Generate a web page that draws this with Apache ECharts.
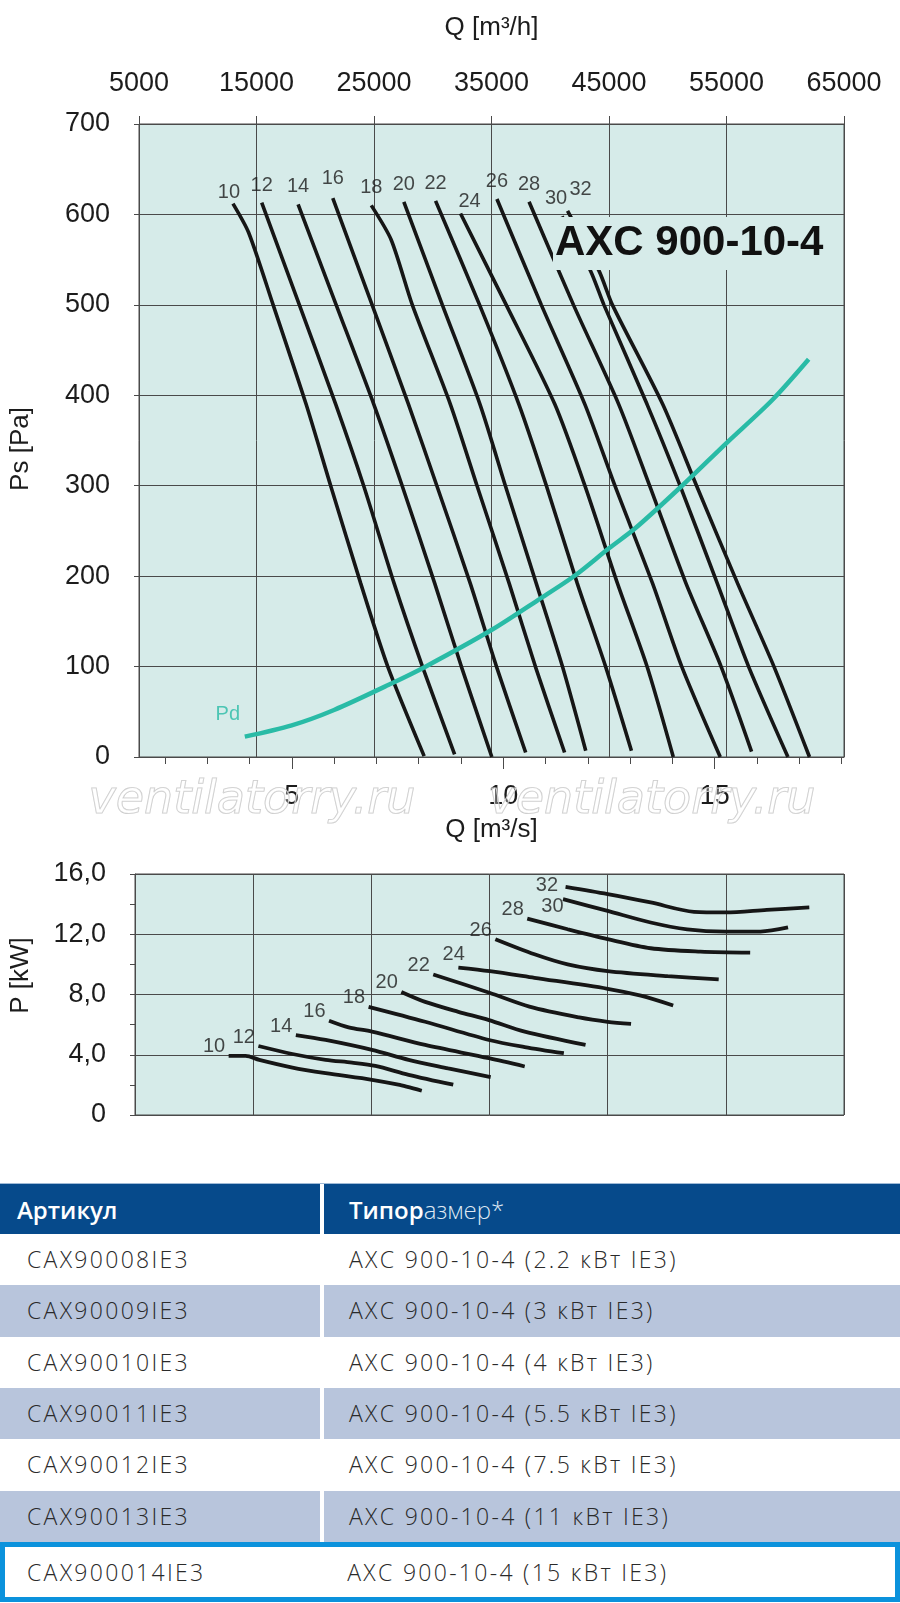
<!DOCTYPE html>
<html>
<head>
<meta charset="utf-8">
<title>AXC 900-10-4</title>
<script src="https://cdn.jsdelivr.net/npm/echarts@6.0.0/dist/echarts.min.js"></script>
<style>
  html, body { margin: 0; padding: 0; background: #fff; }
  #wrap { position: relative; width: 900px; height: 1603px; overflow: hidden; }
  #chart { position: absolute; left: 0; top: 0; width: 900px; height: 1170px; }
  #tbl { position: absolute; left: 0; top: 0; width: 900px; font-family: 'Open Sans', sans-serif; }
  .row { position: absolute; left: 0; width: 900px; display: flex; box-sizing: border-box; }
  .cell { box-sizing: border-box; white-space: nowrap; }
  .c1 { width: 320px; padding-left: 27px; }
  .c2 { width: 576px; margin-left: 4px; padding-left: 25px; }
  .head { top: 1183px; height: 51px; line-height: 51px; border-top: 1px solid #9fbad6; }
  .head .cell { background: #064a8b; color: #fff; font-size: 24px; font-weight: 600; }
  .head .c1 { padding-left: 17px; }
  .head .light { font-weight: 300; color: #dfe8f3; }
  .body .cell { font-size: 23px; font-weight: 300; color: #2a2a2a; letter-spacing: 2.3px; }
  .shade .cell { background: #b8c5dc; }
  .last { border: 5px solid #0b92dc; }
</style>
</head>
<body>
<div id="wrap">
  <div id="chart"></div>
  <div id="tbl"></div>
</div>
<script>
// curve numbers (blade angle)
var bladeAngles = [10, 12, 14, 16, 18, 20, 22, 24, 26, 28, 30, 32];

// axis ticks
var qhTicks = [5000, 15000, 25000, 35000, 45000, 55000, 65000];   // m3/h, top axis
var qsLabelTicks = [5, 10, 15];                                    // m3/s, bottom axis
var qsMinorTicks = [2, 3, 4, 5, 6, 7, 8, 9, 10, 11, 12, 13, 14, 15, 16, 17, 18];

// static pressure curves, [Q m3/s, Ps Pa]
var psCurves = [
  [[3.61, 612], [3.98, 580], [4.56, 500], [5.34, 390], [5.92, 300], [6.63, 192], [7.27, 100], [8.13, 1]],
  [[4.29, 613], [5.18, 500], [6.04, 390], [6.70, 300], [7.42, 192], [8.09, 100], [8.85, 3]],
  [[5.15, 611], [6.05, 500], [6.94, 390], [7.61, 300], [8.38, 192], [9.01, 100], [9.73, 0]],
  [[5.97, 618], [6.90, 500], [7.76, 390], [8.43, 300], [9.22, 192], [9.84, 100], [10.53, 5]],
  [[6.88, 610], [7.35, 572], [7.85, 500], [8.75, 390], [9.38, 300], [10.14, 192], [10.76, 100], [11.45, 5]],
  [[7.65, 614], [8.56, 500], [9.45, 390], [10.05, 300], [10.78, 192], [11.40, 100], [11.95, 7]],
  [[8.40, 615], [9.44, 500], [10.37, 390], [11.02, 300], [11.75, 192], [12.42, 100], [13.03, 7]],
  [[8.99, 601], [10.07, 500], [11.22, 390], [11.93, 300], [12.70, 192], [13.40, 100], [14.02, 0]],
  [[9.85, 617], [10.90, 500], [11.93, 390], [12.64, 300], [13.53, 192], [14.22, 100], [15.13, 0]],
  [[10.61, 614], [11.66, 500], [12.73, 390], [13.46, 300], [14.32, 192], [15.15, 100], [15.87, 6]],
  [[11.39, 598], [12.07, 537], [12.38, 500], [13.40, 390], [14.18, 300], [15.06, 192], [15.80, 100], [16.73, 0]],
  [[11.52, 604], [12.27, 537], [12.58, 500], [13.77, 390], [14.57, 300], [15.54, 192], [16.40, 100], [17.24, 0]]
];

// dynamic pressure Pd, [Q m3/s, Pa]
var pdCurve = [[3.89, 22.5], [5.0, 35], [6.0, 52], [7.33, 80.7], [8.16, 99.9], [9.72, 140.4], [10.82, 173.6],
  [11.68, 200.2], [12.50, 230.8], [13.12, 252.9], [14.22, 299.7], [15.27, 346.9], [16.36, 394.8], [17.22, 439.8]];

// shaft power curves, [Q m3/s, P kW]
var powerCurves = [
  [[3.59, 3.93], [3.99, 3.93], [4.31, 3.66], [5.09, 3.15], [5.87, 2.78], [6.96, 2.34], [7.58, 2.01], [8.13, 1.61]],
  [[4.29, 4.58], [5.09, 4.05], [5.87, 3.66], [6.49, 3.48], [7.04, 3.26], [7.82, 2.67], [8.87, 2.01]],
  [[5.17, 5.31], [5.87, 4.98], [6.96, 4.32], [7.82, 3.66], [8.75, 3.10], [9.75, 2.52]],
  [[5.95, 6.26], [6.41, 5.82], [6.96, 5.53], [8.21, 4.65], [9.71, 3.77], [10.55, 3.22]],
  [[6.88, 7.18], [8.21, 6.19], [9.71, 4.98], [10.55, 4.51], [11.47, 4.10]],
  [[7.65, 8.17], [8.21, 7.51], [8.99, 6.85], [9.71, 6.30], [10.55, 5.53], [11.98, 4.65]],
  [[8.40, 9.33], [9.72, 8.12], [10.66, 7.20], [11.83, 6.48], [12.50, 6.19], [13.05, 6.05]],
  [[8.99, 9.79], [9.73, 9.55], [10.78, 9.11], [12.50, 8.38], [13.28, 7.92], [14.04, 7.27]],
  [[9.86, 11.67], [10.78, 10.67], [11.56, 10.00], [12.50, 9.55], [13.91, 9.22], [15.11, 9.00]],
  [[10.61, 13.04], [11.56, 12.33], [12.50, 11.67], [13.51, 11.07], [14.68, 10.85], [15.85, 10.78]],
  [[11.45, 14.33], [12.50, 13.55], [13.51, 12.78], [14.37, 12.33], [15.27, 12.18], [16.09, 12.18], [16.74, 12.45]],
  [[11.51, 15.15], [12.50, 14.67], [13.51, 14.11], [14.53, 13.49], [15.27, 13.45], [16.24, 13.62], [17.24, 13.78]]
];

// table
var articles = ['CAX90008IE3', 'CAX90009IE3', 'CAX90010IE3', 'CAX90011IE3', 'CAX90012IE3', 'CAX90013IE3', 'CAX900014IE3'];
var sizes = ['AXC 900-10-4 (2.2 кВт IE3)', 'AXC 900-10-4 (3 кВт IE3)', 'AXC 900-10-4 (4 кВт IE3)',
  'AXC 900-10-4 (5.5 кВт IE3)', 'AXC 900-10-4 (7.5 кВт IE3)', 'AXC 900-10-4 (11 кВт IE3)', 'AXC 900-10-4 (15 кВт IE3)'];

var font = "'Liberation Sans', Arial, sans-serif";
var lineCol = '#4a4a4a';
var txtCol = '#1c1c1c';
var plotBg = '#d6ebe9';
var clear = 'rgba(0,0,0,0)';
var qMin = qhTicks[0] / 3600;
var qMax = qhTicks[qhTicks.length - 1] / 3600;

// small label nudges so numbers do not collide
var psNudge = {10: [-4, 6], 16: [0, -2], 24: [9, 5], 30: [-6, 0], 32: [13, -4]};
var pwNudge = {24: [10, -4], 30: [4, 16], 32: [-4, 8]};

function hiddenX(grid, pos) {
  return {
    gridIndex: grid, type: 'value', position: pos, min: qMin, max: qMax,
    axisLine: {show: false, onZero: false}, axisTick: {show: false}, axisLabel: {show: false}, splitLine: {show: false}
  };
}

var series = [];
bladeAngles.forEach(function (a, i) {
  series.push({
    name: 'Ps ' + a, type: 'line', xAxisIndex: 1, yAxisIndex: 0, data: psCurves[i],
    symbol: 'none', smooth: 0.25, silent: true, z: 3,
    lineStyle: {color: '#161616', width: 3.6}
  });
  series.push({
    name: 'P ' + a, type: 'line', xAxisIndex: 3, yAxisIndex: 1, data: powerCurves[i],
    symbol: 'none', smooth: 0.3, silent: true, z: 3,
    lineStyle: {color: '#161616', width: 3.8}
  });
});

series.push({
  name: 'Pd', type: 'line', xAxisIndex: 1, yAxisIndex: 0, data: pdCurve,
  symbol: 'none', smooth: 0.3, silent: true, z: 4,
  lineStyle: {color: '#29bba6', width: 4.5}
});

// curve number labels, anchored on the first point of each curve
series.push({
  type: 'scatter', xAxisIndex: 1, yAxisIndex: 0, silent: true, symbolSize: 1, z: 5,
  itemStyle: {color: clear},
  data: bladeAngles.map(function (a, i) {
    return {name: String(a), value: psCurves[i][0], label: {offset: psNudge[a] || [0, 0]}};
  }),
  label: {show: true, formatter: '{b}', position: 'top', distance: 7, fontSize: 20, color: txtCol, fontFamily: font}
});
series.push({
  type: 'scatter', xAxisIndex: 3, yAxisIndex: 1, silent: true, symbolSize: 1, z: 5,
  itemStyle: {color: clear},
  data: bladeAngles.map(function (a, i) {
    var n = pwNudge[a] || [0, 0];
    return {name: String(a), value: powerCurves[i][0], label: {offset: [n[0], n[1] - 9]}};
  }),
  label: {show: true, formatter: '{b}', position: 'left', distance: 3, fontSize: 20, color: txtCol, fontFamily: font}
});
series.push({
  type: 'scatter', xAxisIndex: 1, yAxisIndex: 0, silent: true, symbolSize: 1, z: 5,
  itemStyle: {color: clear},
  data: [{name: 'Pd', value: pdCurve[0]}],
  label: {show: true, formatter: '{b}', position: 'top', distance: 5, offset: [-17, -7], fontSize: 20, color: '#29bba6', fontFamily: font}
});

var option = {
  animation: false,
  textStyle: {fontFamily: font, color: txtCol},
  grid: [
    {left: 132, top: 124, width: 712, height: 633, show: true, backgroundColor: plotBg, borderColor: lineCol, borderWidth: 1},
    {left: 132, top: 874, width: 712, height: 241, show: true, backgroundColor: plotBg, borderColor: lineCol, borderWidth: 1}
  ],
  xAxis: [
    {
      gridIndex: 0, type: 'value', position: 'top', min: qhTicks[0], max: qhTicks[qhTicks.length - 1],
      name: 'Q [m³/h]', nameLocation: 'middle', nameGap: 83,
      nameTextStyle: {fontSize: 26, color: txtCol, fontFamily: font},
      axisLine: {show: true, onZero: false, lineStyle: {color: lineCol}},
      axisTick: {show: true, length: 8, customValues: qhTicks, lineStyle: {color: lineCol}},
      axisLabel: {customValues: qhTicks, fontSize: 27, margin: 27, color: txtCol, formatter: function (v) { return String(v); }},
      splitLine: {show: true, lineStyle: {color: lineCol, width: 1}}
    },
    {
      gridIndex: 0, type: 'value', position: 'bottom', min: qMin, max: qMax,
      name: 'Q [m³/s]', nameLocation: 'middle', nameGap: 60,
      nameTextStyle: {fontSize: 26, color: txtCol, fontFamily: font},
      axisLine: {show: true, onZero: false, lineStyle: {color: lineCol}},
      axisTick: {show: true, length: 12, customValues: qsLabelTicks, lineStyle: {color: lineCol}},
      axisLabel: {customValues: qsLabelTicks, fontSize: 27, margin: 26, color: txtCol},
      splitLine: {show: false}
    },
    {
      gridIndex: 0, type: 'value', position: 'bottom', min: qMin, max: qMax,
      axisLine: {show: false, onZero: false},
      axisTick: {show: true, length: 7, customValues: qsMinorTicks, lineStyle: {color: lineCol}},
      axisLabel: {show: false}, splitLine: {show: false}
    },
    hiddenX(1, 'bottom'),
    {
      gridIndex: 1, type: 'value', position: 'top', min: qhTicks[0], max: qhTicks[qhTicks.length - 1],
      axisLine: {show: false, onZero: false},
      axisTick: {show: false, customValues: qhTicks},
      axisLabel: {show: false, customValues: qhTicks},
      splitLine: {show: true, lineStyle: {color: lineCol, width: 1}}
    }
  ],
  yAxis: [
    {
      gridIndex: 0, type: 'value', min: 0, max: 700, interval: 100,
      name: 'Ps [Pa]', nameLocation: 'middle', nameGap: 105,
      nameTextStyle: {fontSize: 26, color: txtCol, fontFamily: font, padding: [0, 17, 0, 0]},
      axisLine: {show: true, onZero: false, lineStyle: {color: lineCol}},
      axisTick: {show: true, length: 5, lineStyle: {color: lineCol}},
      axisLabel: {fontSize: 27, margin: 29, color: txtCol},
      splitLine: {show: true, lineStyle: {color: lineCol, width: 1}}
    },
    {
      gridIndex: 1, type: 'value', min: 0, max: 16, interval: 4,
      name: 'P [kW]', nameLocation: 'middle', nameGap: 101,
      nameTextStyle: {fontSize: 26, color: txtCol, fontFamily: font, padding: [0, 0, 0, 38]},
      axisLine: {show: true, onZero: false, lineStyle: {color: lineCol}},
      axisTick: {show: true, length: 5, lineStyle: {color: lineCol}},
      minorTick: {show: true, splitNumber: 2, length: 5, lineStyle: {color: lineCol}},
      axisLabel: {fontSize: 27, margin: 29, color: txtCol, formatter: function (v) {
        return v === 0 ? '0' : v.toFixed(1).replace('.', ',');
      }},
      splitLine: {show: true, lineStyle: {color: lineCol, width: 1}}
    }
  ],
  graphic: [
    // model title sits on a patch of plot colour
    {type: 'rect', z: 50, silent: true, shape: {x: 553, y: 217, width: 279, height: 53}, style: {fill: plotBg}},
    {type: 'text', z: 51, silent: true, x: 555, y: 243,
      style: {text: 'AXC 900-10-4', font: "bold 42px 'Liberation Sans', Arial, sans-serif", fill: '#111', textVerticalAlign: 'middle'}},
    // watermarks
    {type: 'text', z: 60, silent: true, x: 252, y: 801,
      style: {text: 'ventilatorry.ru', font: "italic 46px 'DejaVu Sans', sans-serif", fill: 'rgba(255,255,255,0.3)',
        stroke: '#cbcbcb', lineWidth: 1.1, textAlign: 'center', textVerticalAlign: 'middle'}},
    {type: 'text', z: 60, silent: true, x: 652, y: 801,
      style: {text: 'ventilatorry.ru', font: "italic 46px 'DejaVu Sans', sans-serif", fill: 'rgba(255,255,255,0.3)',
        stroke: '#cbcbcb', lineWidth: 1.1, textAlign: 'center', textVerticalAlign: 'middle'}}
  ],
  series: series
};

var chart = echarts.init(document.getElementById('chart'));
chart.setOption(option);

// model table
var html = '<div class="row head"><div class="cell c1">Артикул</div>' +
  '<div class="cell c2">Типор<span class="light">азмер*</span></div></div>';
var rowH = (1542 - 1234) / 6;
for (var i = 0; i < articles.length; i++) {
  var isLast = i === articles.length - 1;
  var rowTop = 1234 + i * rowH;
  var cls = 'row body' + (i % 2 === 1 ? ' shade' : '') + (isLast ? ' last' : '');
  var st = 'top:' + rowTop + 'px;height:' + (isLast ? 60 : rowH) + 'px;line-height:' + (isLast ? 50 : rowH) + 'px';
  html += '<div class="' + cls + '" style="' + st + '">' +
    '<div class="cell c1"' + (isLast ? ' style="padding-left:22px"' : '') + '>' + articles[i] + '</div>' +
    '<div class="cell c2"' + (isLast ? ' style="margin-left:-1px"' : '') + '>' + sizes[i] + '</div></div>';
}
document.getElementById('tbl').innerHTML = html;
</script>
</body>
</html>
